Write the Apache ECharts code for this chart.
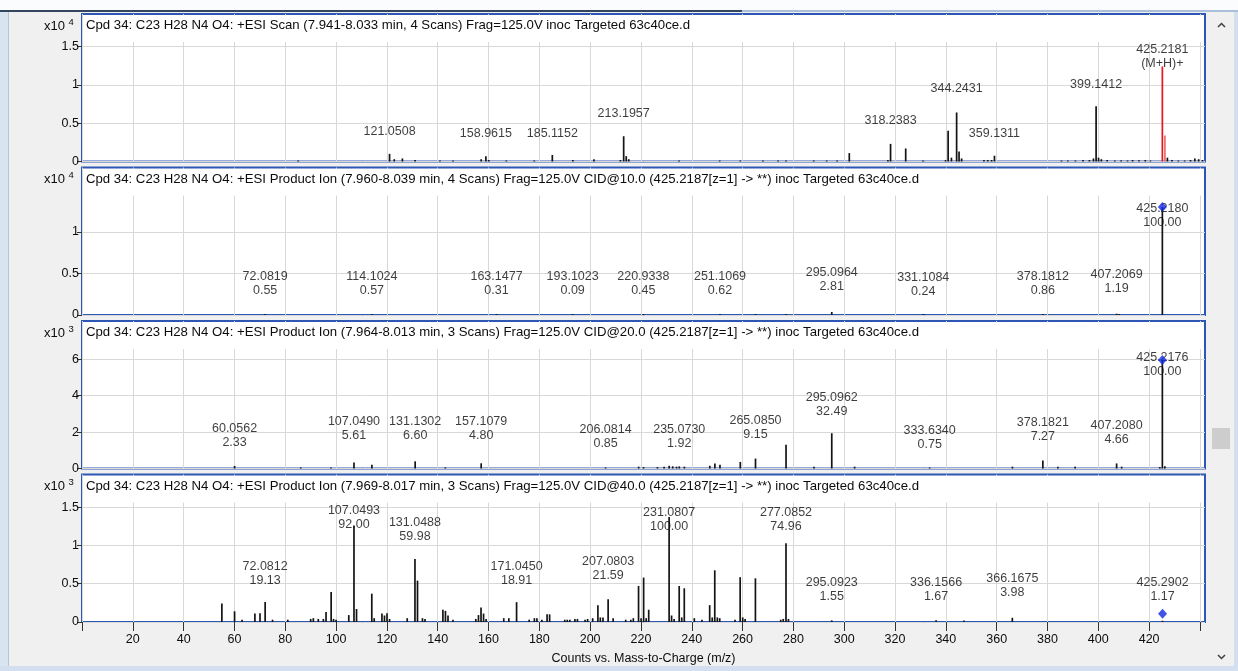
<!DOCTYPE html>
<html>
<head>
<meta charset="utf-8">
<script src="https://cdn.jsdelivr.net/npm/echarts@6.0.0/dist/echarts.min.js"></script>
<style>
  html, body { margin: 0; padding: 0; background: #f0f0f0; }
  #chart { width: 1238px; height: 671px; }
</style>
</head>
<body>
<div id="chart"></div>
<script>
// ================= data =================
const X_TICKS = [0, 20, 40, 60, 80, 100, 120, 140, 160, 180, 200, 220, 240, 260, 280, 300, 320, 340, 360, 380, 400, 420, 440];
const X_TICK_LABELS = [20, 40, 60, 80, 100, 120, 140, 160, 180, 200, 220, 240, 260, 280, 300, 320, 340, 360, 380, 400, 420];
const X_AXIS_NAME = 'Counts vs. Mass-to-Charge (m/z)';

const TITLES = [
  'Cpd 34: C23 H28 N4 O4: +ESI Scan (7.941-8.033 min, 4 Scans) Frag=125.0V inoc Targeted 63c40ce.d',
  'Cpd 34: C23 H28 N4 O4: +ESI Product Ion (7.960-8.039 min, 4 Scans) Frag=125.0V CID@10.0 (425.2187[z=1] -> **) inoc Targeted 63c40ce.d',
  'Cpd 34: C23 H28 N4 O4: +ESI Product Ion (7.964-8.013 min, 3 Scans) Frag=125.0V CID@20.0 (425.2187[z=1] -> **) inoc Targeted 63c40ce.d',
  'Cpd 34: C23 H28 N4 O4: +ESI Product Ion (7.969-8.017 min, 3 Scans) Frag=125.0V CID@40.0 (425.2187[z=1] -> **) inoc Targeted 63c40ce.d'
];
const Y_EXPONENTS = [4, 4, 3, 3];
const Y_TICKS_P1 = [0, 0.5, 1, 1.5];
const Y_TICKS_P2 = [0, 0.5, 1];
const Y_TICKS_P3 = [0, 2, 4, 6];
const Y_TICKS_P4 = [0, 0.5, 1, 1.5];

// --- MS1 scan (counts x10^4) ---
const P1_PEAK_MZ = [85.1, 121.0508, 122.9, 126.1, 131.1, 140.9, 146.0, 157.1, 158.9615, 160.1, 167.0, 178.0,
  185.1152, 193.2, 201.5, 211.9, 213.1957, 214.2, 215.2, 235.0, 251.0, 259.1, 268.0, 274.0, 277.1, 288.0,
  293.1, 297.2, 302.0, 317.2, 318.2383, 324.2, 331.0, 339.9, 340.9, 342.2, 344.2431, 345.2, 346.2, 355.0,
  356.5, 358.0, 359.1311, 385.5, 388.0, 391.0, 394.0, 396.5, 398.1, 399.1412, 400.1, 401.2, 403.5, 406.5,
  409.0, 411.5, 413.5, 416.0, 418.5, 420.5, 427.2, 429.0, 431.5, 434.0, 436.3, 438.0, 439.5, 441.0];
const P1_PEAK_COUNTS = [0.01, 0.10, 0.03, 0.04, 0.02, 0.01, 0.01, 0.03, 0.07, 0.02, 0.01, 0.01,
  0.085, 0.02, 0.03, 0.02, 0.33, 0.07, 0.03, 0.01, 0.01, 0.01, 0.01, 0.005, 0.01, 0.01,
  0.01, 0.01, 0.11, 0.02, 0.23, 0.17, 0.01, 0.02, 0.40, 0.05, 0.64, 0.13, 0.04, 0.02,
  0.02, 0.02, 0.075, 0.01, 0.01, 0.01, 0.02, 0.02, 0.04, 0.72, 0.05, 0.03, 0.02, 0.01,
  0.015, 0.01, 0.02, 0.015, 0.02, 0.01, 0.05, 0.02, 0.01, 0.01, 0.02, 0.04, 0.03, 0.02];
// (M+H)+ isotope cluster
const P1_ION_MZ = [425.2181, 426.2206];
const P1_ION_COUNTS = [1.24, 0.34];
const P1_LABEL_MZ = [121.0508, 158.9615, 185.1152, 213.1957, 318.2383, 344.2431, 359.1311, 399.1412, 425.2181];
const P1_ION_TAG = '(M+H)+';

// --- Product ion, CID 10 (counts x10^4) ---
const P2_BASE = 1.30;
const P2_LABEL_MZ = [72.0819, 114.1024, 163.1477, 193.1023, 220.9338, 251.1069, 295.0964, 331.1084, 378.1812, 407.2069, 425.2180];
const P2_LABEL_REL = [0.55, 0.57, 0.31, 0.09, 0.45, 0.62, 2.81, 0.24, 0.86, 1.19, 100.00];
const P2_MINOR_MZ = [265.1, 277.1, 408.2];
const P2_MINOR_COUNTS = [0.005, 0.005, 0.004];

// --- Product ion, CID 20 (counts x10^3) ---
const P3_BASE = 5.96;
const P3_LABEL_MZ = [60.0562, 107.0490, 131.1302, 157.1079, 206.0814, 235.0730, 265.0850, 295.0962, 333.6340, 378.1821, 407.2080, 425.2176];
const P3_LABEL_REL = [2.33, 5.61, 6.60, 4.80, 0.85, 1.92, 9.15, 32.49, 0.75, 7.27, 4.66, 100.00];
const P3_MINOR_MZ = [86.1, 98.0, 114.1, 143.0, 219.1, 221.0, 226.5, 229.1, 231.1, 232.5, 234.0, 237.1,
  247.1, 249.1, 251.1, 259.1, 277.1, 288.1, 304.1, 366.2, 384.1, 390.9, 409.2, 424.2, 426.2];
const P3_MINOR_COUNTS = [0.06, 0.06, 0.20, 0.06, 0.10, 0.08, 0.08, 0.10, 0.15, 0.12, 0.10, 0.10,
  0.15, 0.27, 0.20, 0.36, 1.31, 0.10, 0.10, 0.10, 0.10, 0.10, 0.10, 0.08, 0.12];

// --- Product ion, CID 40 (counts x10^3) ---
const P4_BASE = 1.37;
const P4_LABEL_MZ = [72.0812, 107.0493, 131.0488, 171.0450, 207.0803, 231.0807, 277.0852, 295.0923, 336.1566, 366.1675, 425.2902];
const P4_LABEL_REL = [19.13, 92.00, 59.98, 18.91, 21.59, 100.00, 74.96, 1.55, 1.67, 3.98, 1.17];
const P4_MINOR_MZ = [55.05, 60.05, 63.0, 68.05, 70.06, 75.0, 81.0, 90.0, 91.05, 93.0, 95.0, 96.05, 98.06, 99.0,
  100.0, 105.0, 108.05, 114.06, 115.0, 118.05, 119.05, 120.05, 121.05, 128.0, 132.05, 134.0, 135.0, 142.05,
  143.05, 144.05, 146.0, 155.0, 156.05, 157.05, 158.05, 159.05, 166.0, 168.0, 176.0, 178.05, 179.05, 181.0,
  183.05, 184.05, 190.0, 191.0, 192.0, 194.0, 195.0, 198.0, 199.0, 201.0, 203.05, 204.0, 205.05, 209.05,
  214.0, 216.0, 217.0, 219.05, 220.05, 221.05, 222.05, 223.05, 232.05, 233.05, 235.05, 236.05, 237.05,
  241.0, 244.0, 247.05, 248.05, 249.05, 250.05, 251.0, 257.0, 259.05, 260.05, 261.0, 265.05, 275.0, 276.0,
  278.05, 347.1];
const P4_MINOR_COUNTS = [0.24, 0.14, 0.03, 0.11, 0.115, 0.03, 0.03, 0.04, 0.05, 0.04, 0.04, 0.13, 0.39, 0.04,
  0.03, 0.09, 0.17, 0.37, 0.05, 0.11, 0.085, 0.115, 0.04, 0.05, 0.54, 0.05, 0.04, 0.16,
  0.145, 0.085, 0.03, 0.04, 0.09, 0.19, 0.11, 0.04, 0.05, 0.05, 0.03, 0.05, 0.05, 0.03,
  0.10, 0.10, 0.03, 0.03, 0.03, 0.04, 0.04, 0.03, 0.04, 0.05, 0.22, 0.06, 0.06, 0.05,
  0.03, 0.03, 0.05, 0.47, 0.05, 0.58, 0.05, 0.16, 0.085, 0.04, 0.47, 0.06, 0.44,
  0.05, 0.03, 0.22, 0.06, 0.675, 0.06, 0.05, 0.03, 0.585, 0.06, 0.04, 0.57, 0.03, 0.04,
  0.04, 0.02];

// ================= layout & style =================
const FONT = '"Liberation Sans", Arial, sans-serif';
const FS = 12.5;
const TITLE_FS = 13.2;
const TEXT = '#0c0c0c';
const FRAME = '#2c57b4';
const GRID_COLOR = '#d8d8d8';
const BAR_COLOR = '#141414';
const ION_COLORS = ['#e8151b', '#f06a6a'];
const MARKER_COLOR = '#1428e0';

const GRID_LEFT = 82;
const GRID_WIDTH = 1123;
const GRID_HEIGHT = 147.5;
const FRAME_TOPS = [14, 167.5, 321, 474.5];
const TITLE_STRIP = 28;         // white band that holds the panel title
const X_MAX = 442;
const Y_MAX = [1.925, 1.777, 8.1, 1.925];
const MARKER_LIFT = [0, 0, 0, -7];

// vertical anchor (axis units) for the centre of each peak annotation
const LABEL_LEVEL_P1 = [0.39, 0.36, 0.36, 0.62, 0.54, 0.95, 0.37, 1.01, 1.37];
const LABEL_LEVEL_P2 = [0.376, 0.376, 0.376, 0.376, 0.376, 0.376, 0.43, 0.364, 0.376, 0.40, 1.20];
const LABEL_LEVEL_P3 = [1.80, 2.20, 2.20, 2.20, 1.76, 1.76, 2.25, 3.53, 1.70, 2.13, 1.98, 5.73];
const LABEL_LEVEL_P4 = [0.63, 1.36, 1.21, 0.63, 0.70, 1.34, 1.34, 0.43, 0.43, 0.47, 0.43];

// ================= build =================
function productPanel(base, labelMz, labelRel, minorMz, minorCounts, levels) {
  const bars = [];
  minorMz.forEach((mz, k) => bars.push({ value: [mz, minorCounts[k]] }));
  labelMz.forEach((mz, k) => bars.push({ value: [mz, base * labelRel[k] / 100] }));
  const labels = labelMz.map((mz, k) => ({
    value: [mz, levels[k]],
    text: mz.toFixed(4) + '\n' + labelRel[k].toFixed(2)
  }));
  const last = labelMz.length - 1;
  const precursor = [labelMz[last], base * labelRel[last] / 100];
  return { bars, labels, precursor };
}

const panels = [];
{
  const bars = P1_PEAK_MZ.map((mz, k) => ({ value: [mz, P1_PEAK_COUNTS[k]] }));
  P1_ION_MZ.forEach((mz, k) => bars.push({ value: [mz, P1_ION_COUNTS[k]], itemStyle: { color: ION_COLORS[k] } }));
  const labels = P1_LABEL_MZ.map((mz, k) => ({
    value: [mz, LABEL_LEVEL_P1[k]],
    text: P1_ION_MZ.indexOf(mz) >= 0 ? mz.toFixed(4) + '\n' + P1_ION_TAG : mz.toFixed(4)
  }));
  panels.push({ bars, labels, precursor: null, yTicks: Y_TICKS_P1 });
}
panels.push(Object.assign(productPanel(P2_BASE, P2_LABEL_MZ, P2_LABEL_REL, P2_MINOR_MZ, P2_MINOR_COUNTS, LABEL_LEVEL_P2), { yTicks: Y_TICKS_P2 }));
panels.push(Object.assign(productPanel(P3_BASE, P3_LABEL_MZ, P3_LABEL_REL, P3_MINOR_MZ, P3_MINOR_COUNTS, LABEL_LEVEL_P3), { yTicks: Y_TICKS_P3 }));
panels.push(Object.assign(productPanel(P4_BASE, P4_LABEL_MZ, P4_LABEL_REL, P4_MINOR_MZ, P4_MINOR_COUNTS, LABEL_LEVEL_P4), { yTicks: Y_TICKS_P4 }));

const option = {
  animation: false,
  backgroundColor: '#f0f0f0',
  textStyle: { fontFamily: FONT },
  grid: [], xAxis: [], yAxis: [], series: [], graphic: []
};

// window chrome around the plots
option.graphic.push(
  { type: 'rect', shape: { x: 0, y: 0, width: 1238, height: 10 }, style: { fill: '#fbfcfe' }, z: 0, silent: true },
  { type: 'rect', shape: { x: 0, y: 10, width: 742, height: 2 }, style: { fill: '#34465e' }, z: 0, silent: true },
  { type: 'rect', shape: { x: 742, y: 10, width: 496, height: 2 }, style: { fill: '#a9bfdc' }, z: 0, silent: true },
  { type: 'rect', shape: { x: 0, y: 12, width: 8, height: 659 }, style: { fill: '#d9e4f1' }, z: 0, silent: true },
  { type: 'rect', shape: { x: 8, y: 12, width: 1, height: 654 }, style: { fill: '#b8c4d2' }, z: 0, silent: true },
  { type: 'rect', shape: { x: 0, y: 666, width: 1238, height: 5 }, style: { fill: '#d3dfee' }, z: 0, silent: true },
  { type: 'rect', shape: { x: 1234, y: 12, width: 4, height: 659 }, style: { fill: '#d3dfee' }, z: 0, silent: true },
  // scroll bar
  { type: 'rect', shape: { x: 1210, y: 12, width: 24, height: 654 }, style: { fill: '#f0f0f0' }, z: 0, silent: true },
  { type: 'rect', shape: { x: 1212, y: 428, width: 18, height: 21 }, style: { fill: '#cdcdcd' }, z: 0, silent: true },
  { type: 'polyline', shape: { points: [[1218, 27], [1221.5, 23.5], [1225, 27]] }, style: { stroke: '#404040', lineWidth: 1.5, fill: null }, z: 0, silent: true },
  { type: 'polyline', shape: { points: [[1218, 655], [1221.5, 658.5], [1225, 655]] }, style: { stroke: '#404040', lineWidth: 1.5, fill: null }, z: 0, silent: true }
);

panels.forEach((p, i) => {
  const top = FRAME_TOPS[i];
  const last = i === panels.length - 1;

  option.grid.push({
    left: GRID_LEFT, width: GRID_WIDTH, top: top, height: GRID_HEIGHT,
    show: true, backgroundColor: '#ffffff', borderColor: FRAME, borderWidth: 2
  });

  option.xAxis.push({
    type: 'value', gridIndex: i, min: 0, max: X_MAX, interval: 20,
    axisLine: { show: false },
    axisTick: { show: last, length: 9, customValues: X_TICKS, lineStyle: { color: '#333', width: 1 } },
    axisLabel: { show: last, customValues: X_TICK_LABELS, margin: 11, fontSize: FS, color: TEXT, fontFamily: FONT },
    splitLine: { show: true, lineStyle: { color: GRID_COLOR, width: 1 } },
    name: last ? X_AXIS_NAME : '',
    nameLocation: 'middle', nameGap: 30,
    nameTextStyle: { fontSize: FS, color: TEXT, fontFamily: FONT }
  });

  option.yAxis.push({
    type: 'value', gridIndex: i, min: 0, max: Y_MAX[i],
    axisLine: { show: false },
    axisTick: { show: true, length: 5, customValues: p.yTicks, lineStyle: { color: '#333', width: 1 } },
    axisLabel: { customValues: p.yTicks, margin: 3, fontSize: FS, color: TEXT, fontFamily: FONT, formatter: v => String(v) },
    splitLine: { show: true, lineStyle: { color: GRID_COLOR, width: 1 } }
  });

  option.series.push({
    type: 'bar', xAxisIndex: i, yAxisIndex: i,
    barWidth: 1.7, barMinHeight: 1,
    itemStyle: { color: BAR_COLOR },
    data: p.bars, z: 3, silent: true
  });

  option.series.push({
    type: 'scatter', xAxisIndex: i, yAxisIndex: i,
    symbolSize: 1, itemStyle: { color: 'rgba(0,0,0,0)' },
    label: {
      show: true, position: 'inside', formatter: q => q.data.text,
      fontSize: FS, lineHeight: 14, color: TEXT, fontFamily: FONT
    },
    data: p.labels, z: 5, silent: true
  });

  if (p.precursor) {
    option.series.push({
      type: 'scatter', xAxisIndex: i, yAxisIndex: i,
      symbol: 'diamond', symbolSize: [9, 10], symbolOffset: [0, MARKER_LIFT[i]],
      itemStyle: { color: MARKER_COLOR },
      data: [p.precursor], z: 6, silent: true
    });
  }

  // title band hides the grid lines behind the panel heading
  option.graphic.push(
    { type: 'rect', shape: { x: GRID_LEFT + 1, y: top + 1.5, width: GRID_WIDTH - 2, height: TITLE_STRIP - 1.5 }, style: { fill: '#ffffff' }, z: 1, silent: true },
    { type: 'text', x: 86, y: top + 11.5, style: { text: TITLES[i], font: TITLE_FS + 'px ' + FONT, fill: TEXT, verticalAlign: 'middle' }, z: 1, silent: true },
    { type: 'text', x: 65, y: top + 12, style: { text: 'x10', font: '13px ' + FONT, fill: TEXT, align: 'right', verticalAlign: 'middle' }, z: 1, silent: true },
    { type: 'text', x: 68.5, y: top + 8, style: { text: String(Y_EXPONENTS[i]), font: '9.5px ' + FONT, fill: TEXT, align: 'left', verticalAlign: 'middle' }, z: 1, silent: true }
  );
});

const chart = echarts.init(document.getElementById('chart'), null, { renderer: 'canvas' });
chart.setOption(option);
</script>
</body>
</html>
